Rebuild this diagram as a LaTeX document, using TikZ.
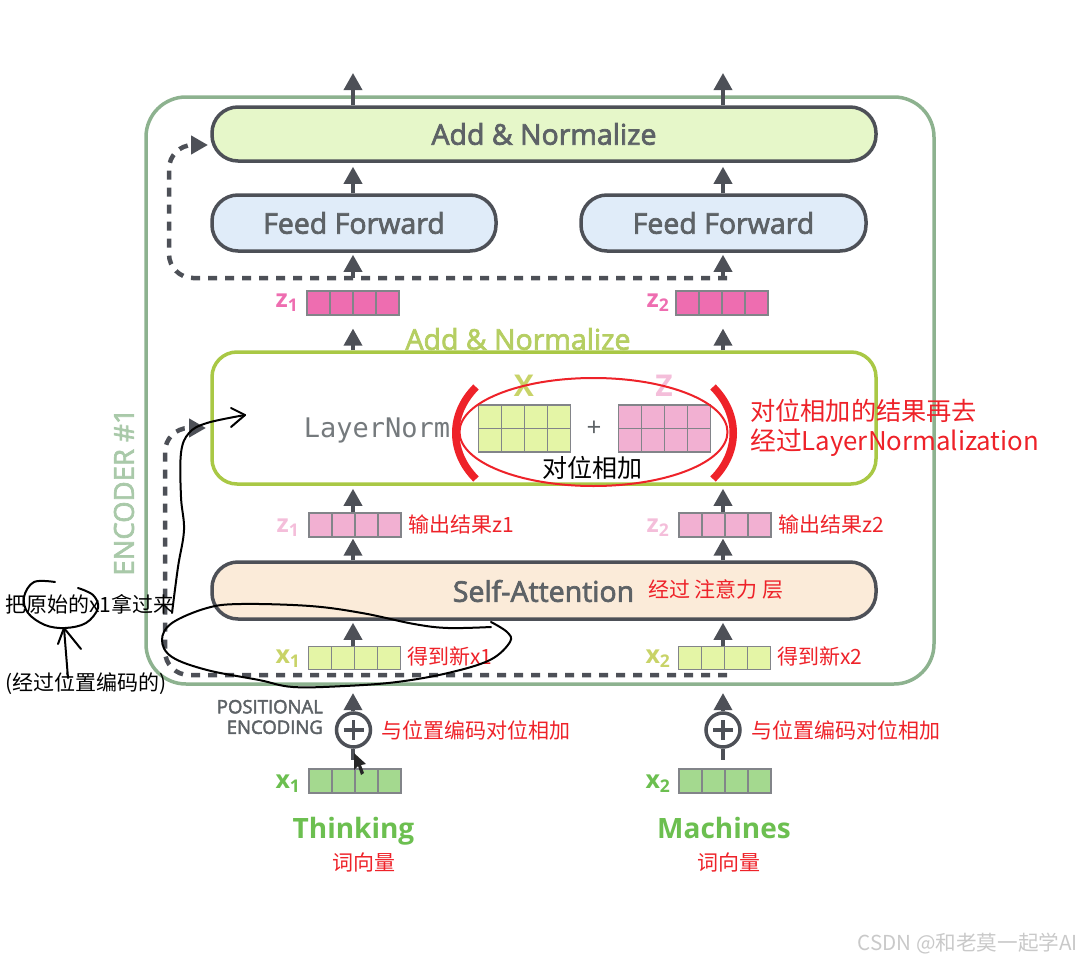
\documentclass[tikz,border=0pt]{standalone}
\usepackage{fontspec}
\setmainfont{Open Sans}
\newfontfamily\cjk{Noto Sans CJK SC}
\newfontfamily\semi[FakeBold=2.5]{Open Sans}
\newfontfamily\monof{DejaVu Sans Mono}
\newcommand{\pxfont}[1]{\fontsize{#1}{#1}\selectfont}
\usetikzlibrary{arrows.meta,calc,positioning}

\definecolor{boxgray}{HTML}{4D5057}
\definecolor{textgray}{HTML}{5D6266}
\definecolor{encgreen}{HTML}{8DB28F}
\definecolor{encfont}{HTML}{A9C9A9}
\definecolor{normgreen}{HTML}{A9C845}
\definecolor{normfont}{HTML}{B5CE62}
\definecolor{addfill}{HTML}{E6F7C9}
\definecolor{fffill}{HTML}{E0ECF9}
\definecolor{attnfill}{HTML}{FBEBD9}
\definecolor{zdark}{HTML}{EE6DB0}
\definecolor{zpale}{HTML}{F2B0D2}
\definecolor{zfont}{HTML}{F4BEDA}
\definecolor{xpale}{HTML}{E4F5A6}
\definecolor{xfont}{HTML}{C8D368}
\definecolor{xgreen}{HTML}{A4D98F}
\definecolor{wordgreen}{HTML}{6CBF50}
\definecolor{inkred}{HTML}{EE2229}
\definecolor{markgray}{HTML}{C9C9C9}

\begin{document}
\begin{tikzpicture}
		[
			x=1pt,y=-1pt,
			layer/.style={draw=boxgray,line width=3.5pt,rounded corners=26pt,text=textgray,font=\semi\pxfont{28.5},inner sep=0pt},
			vec/.style={draw=boxgray!70,line width=1.2pt,minimum width=92pt,minimum height=24pt,inner sep=0pt,
				path picture={
					\foreach \k in {1,2,3}
					\draw[boxgray!70,line width=1.2pt]
						($(path picture bounding box.north west)!\k/4!(path picture bounding box.north east)$) --
						($(path picture bounding box.south west)!\k/4!(path picture bounding box.south east)$);
				}},
			grid/.style={vec,minimum height=47pt,
				append after command={(\tikzlastnode.west) edge[draw=boxgray!70,line width=1.2pt] (\tikzlastnode.east)}},
			arrow/.style={-{Triangle[length=17pt,width=18pt]},draw=boxgray,line width=3.5pt},
			dashline/.style={arrow,line width=4.5pt,dash pattern=on 9pt off 8pt,rounded corners=24pt},
			idx/.style={font=\bfseries\pxfont{25},inner sep=0pt},
			note/.style={font=\cjk\pxfont{21},text=inkred,inner sep=0pt,anchor=west},
			blacknote/.style={font=\cjk\pxfont{21},text=black,inner sep=0pt,anchor=west},
			pen/.style={draw=black,line width=2pt,line cap=round,line join=round}
		]
		\useasboundingbox (0,0) rectangle (1080,961);

		% encoder frame
		\node[draw=encgreen,line width=3.5pt,rounded corners=40pt,minimum width=788pt,minimum height=587pt] (encoder) at (540,390.5) {};
		\node[rotate=90,text=encfont,font=\semi\pxfont{27.5},inner sep=0pt] (enclabel) at (124,492) {ENCODER \#1};

		% layers
		\node[layer,fill=addfill,minimum width=664pt,minimum height=54pt] (addtop) at (544,134) {Add \& Normalize};
		\node[layer,fill=fffill,minimum width=284pt,minimum height=56pt] (ffa) at (354,223) {Feed Forward};
		\node[layer,fill=fffill,minimum width=285pt,minimum height=56pt] (ffb) at (723.5,223) {Feed Forward};
		\node[layer,draw=normgreen,fill=white,rounded corners=25pt,minimum width=664pt,minimum height=132pt] (normbox) at (544,418) {};
		\node[layer,fill=attnfill,minimum width=664pt,minimum height=57pt] (attn) at (544,590.5) {};
		\node[text=textgray,font=\semi\pxfont{28.5},inner sep=0pt] (attnlabel) at (543.5,591) {Self-Attention};
		\node[text=normfont,font=\semi\pxfont{28.5},inner sep=0pt] (normlabel) at (518,339) {Add \& Normalize};
		\node[text=textgray!85,font=\monof\pxfont{27},inner sep=0pt] (lnlabel) at (377,430) {LayerNorm};

		% vectors
		\node[vec,fill=zdark] (zda) at (353,303) {};
		\node[vec,fill=zdark] (zdb) at (722,303) {};
		\node[vec,fill=zpale] (zpa) at (355,525) {};
		\node[vec,fill=zpale] (zpb) at (725,525) {};
		\node[vec,fill=xpale,minimum height=23pt] (xpa) at (354.5,658) {};
		\node[vec,fill=xpale,minimum height=23pt] (xpb) at (724.5,658) {};
		\node[vec,fill=xgreen] (xga) at (355,781) {};
		\node[vec,fill=xgreen] (xgb) at (725,781) {};

		% vector labels
		\node[idx,text=zdark] (zdal) at (287,303) {z\textsubscript{1}};
		\node[idx,text=zdark] (zdbl) at (658,303) {z\textsubscript{2}};
		\node[idx,text=zfont] (zpal) at (288,528) {z\textsubscript{1}};
		\node[idx,text=zfont] (zpbl) at (658,528) {z\textsubscript{2}};
		\node[idx,text=xfont] (xpal) at (288,659) {x\textsubscript{1}};
		\node[idx,text=xfont] (xpbl) at (658,659) {x\textsubscript{2}};
		\node[idx,text=wordgreen] (xgal) at (288,784) {x\textsubscript{1}};
		\node[idx,text=wordgreen] (xgbl) at (658,784) {x\textsubscript{2}};

		% the sum inside the norm layer
		\node[grid,fill=xpale] (sumx) at (524.5,428.5) {};
		\node[grid,fill=zpale] (sumz) at (664.5,428.5) {};
		\node[text=xfont,font=\bfseries\pxfont{30},inner sep=0pt] (sumxl) at (524,386) {X};
		\node[text=zfont,font=\bfseries\pxfont{30},inner sep=0pt] (sumzl) at (664,386) {Z};
		\node[text=textgray,font=\pxfont{26},inner sep=0pt] (plus) at (594,429) {+};

		% positional encoding
		\node[draw=boxgray,line width=3.5pt,circle,fill=white,minimum size=34pt,inner sep=0pt] (pea) at (353.5,730) {};
		\node[draw=boxgray,line width=3.5pt,circle,fill=white,minimum size=34pt,inner sep=0pt] (peb) at (723,730) {};
		\foreach \pe in {pea,peb}
		{
			\draw[boxgray,line width=3.5pt] ([yshift=-10pt]\pe.center) -- ([yshift=10pt]\pe.center);
			\draw[boxgray,line width=3.5pt] ([xshift=-10pt]\pe.center) -- ([xshift=10pt]\pe.center);
		}
		\node[text=textgray,font=\semi\pxfont{18.5},inner sep=0pt,anchor=east,align=right] (pelabel) at (323,717) {POSITIONAL\\[2pt]ENCODING};

		% words
		\node[text=wordgreen,font=\bfseries\pxfont{28},inner sep=0pt] (worda) at (353.5,831) {Thinking};
		\node[text=wordgreen,font=\bfseries\pxfont{28},inner sep=0pt] (wordb) at (724,828) {Machines};

		% solid connectors
		\coordinate (cola) at (353,0);
		\coordinate (colb) at (723,0);
		\coordinate (outa) at (353,73);
		\coordinate (outb) at (723,73);
		\coordinate (stema) at (353,278);
		\coordinate (stemb) at (723,278);
		\coordinate (stuba) at (353,760);
		\coordinate (stubb) at (723,760);

		\foreach \from/\to in {addtop.north-|cola/outa,addtop.north-|colb/outb}
		\draw[arrow] (\from) -- (\to);

		\foreach \from/\to in {ffa.north-|cola/addtop.south-|cola,ffb.north-|colb/addtop.south-|colb}
		\draw[arrow,shorten >=4pt] (\from) -- (\to);

		\foreach \from/\to in {stema/ffa.south-|cola,stemb/ffb.south-|colb}
		\draw[arrow,shorten >=2pt] (\from) -- (\to);

		\foreach \from/\to in {normbox.north-|cola/zda.south-|cola,normbox.north-|colb/zdb.south-|colb}
		\draw[arrow,shorten >=13pt] (\from) -- (\to);

		\foreach \from/\to in {zpa.north-|cola/normbox.south-|cola,zpb.north-|colb/normbox.south-|colb}
		\draw[arrow,shorten >=3pt] (\from) -- (\to);

		\foreach \from/\to in {attn.north-|cola/zpa.south-|cola,attn.north-|colb/zpb.south-|colb}
		\draw[arrow,shorten >=1pt] (\from) -- (\to);

		\foreach \from/\to in {xpa.north-|cola/attn.south-|cola,xpb.north-|colb/attn.south-|colb}
		\draw[arrow,shorten >=2pt] (\from) -- (\to);

		\foreach \from/\to in {pea.north-|cola/xpa.south-|cola,peb.north-|colb/xpb.south-|colb}
		\draw[arrow,shorten >=23pt] (\from) -- (\to);

		\foreach \from/\to in {pea.south-|cola/stuba,peb.south-|colb/stubb}
		\draw[boxgray,line width=3.5pt] (\from) -- (\to);

		% dashed residual paths
		\coordinate (resa) at (727,278);
		\coordinate (resb) at (727,675);
		\coordinate (rtipa) at (208,145);
		\coordinate (rtipb) at (206,428);
		\draw[dashline] (resa) -- (169,278) -- (169,145) -- (rtipa);
		\draw[dashline] (resb) -- (165,675) -- (165,428) -- (rtipb);

		% red notes
		\node[note] (n1) at (408,524) {输出结果z1};
		\node[note] (n2) at (778,524) {输出结果z2};
		\node[note] (n3) at (648,590) {经过 注意力 层};
		\node[note] (n4) at (407,656) {得到新x1};
		\node[note] (n5) at (777,656) {得到新x2};
		\node[note] (n6) at (381,730) {与位置编码对位相加};
		\node[note] (n7) at (751,730) {与位置编码对位相加};
		\node[note] (n8) at (332,862) {词向量};
		\node[note] (n9) at (697,862) {词向量};
		\node[note,font=\cjk\pxfont{25.2}] (n10) at (750,411) {对位相加的结果再去};
		\node[note,font=\cjk\pxfont{25.8}] (n11) at (750,443) {经过LayerNormalization};

		% red marks round the sum
		\draw[inkred,line width=7.5pt] (476,387) .. controls (449,414) and (449,452) .. (476,479);
		\draw[inkred,line width=7.5pt] (713,387) .. controls (740,414) and (740,452) .. (713,479);
		\draw[inkred,line width=2pt] (593.5,432) ellipse [x radius=134,y radius=54];

		% black notes
		\node[blacknote,font=\cjk\pxfont{25}] (n12) at (542,468) {对位相加};
		\node[blacknote] (n13) at (5,604) {把原始的x1拿过来};
		\node[blacknote] (n14) at (5,684) {(经过位置编码的)};

		% pen strokes
		\draw[pen] plot[smooth,tension=0.6] coordinates {(491,627) (448,628) (414,624) (362,613) (310,606) (241,604) (207,608) (172,623) (162,640) (172,657) (207,670) (259,680) (293,687) (345,686) (397,682) (448,673) (490,660) (510,642) (507,632) (491,622)};
		\draw[pen] plot[smooth,tension=0.6] coordinates {(172,613) (178,567) (184,530) (181,497) (181,453) (189,433) (207,423) (245,415)};
		\draw[pen] (231,408) -- (245,415) -- (231,427);
		\draw[pen] plot[smooth,tension=0.6] coordinates {(55,582) (34,582) (24,597) (28,613) (45,625) (65,628) (86,623) (98,608) (93,595) (78,588)};
		\draw[pen] (68,678) -- (64,628);
		\draw[pen] (58,644) -- (64,628) -- (81,649);

		% mouse pointer
		\fill[black!85] (354,753) -- (354,770) -- (358,766) -- (361,775) -- (364,773) -- (361,765) -- (366,764) -- cycle;

		% watermark
		\node[font=\cjk\pxfont{20.6},text=markgray,inner sep=0pt,anchor=east] (mark) at (1078,944) {CSDN @和老莫一起学AI};

	\end{tikzpicture}
\end{document}
